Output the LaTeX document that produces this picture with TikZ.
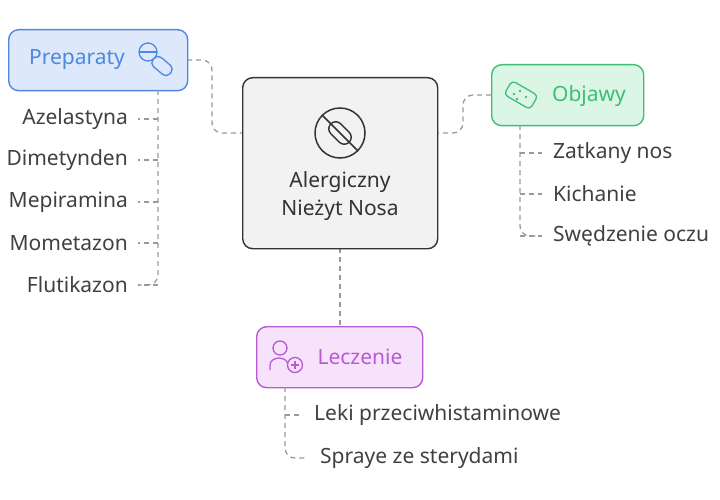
\documentclass[tikz,border=0pt]{standalone}
\usepackage{fontspec}
\setmainfont{Noto Sans}
\definecolor{ln}{HTML}{9A9A9A}
\definecolor{bl}{HTML}{4F86E0}\definecolor{blf}{HTML}{DDE9FB}
\definecolor{gr}{HTML}{3CBF75}\definecolor{grf}{HTML}{DCF6E6}
\definecolor{pu}{HTML}{B65AD6}\definecolor{puf}{HTML}{F6E3FB}
\begin{document}
\begin{tikzpicture}[x=1pt,y=-1pt,
 con/.style={draw=ln,dashed,dash pattern=on 5pt off 4pt,line width=1.3pt,rounded corners=10pt},
 item/.style={font=\fontsize{21}{24}\selectfont,text=black!75,inner sep=0pt},
 box/.style={rounded corners=10pt,line width=1.4pt}]
\useasboundingbox (0,0) rectangle (720,500);
% connectors
\coordinate (p1) at (187,60); \coordinate (c1) at (242,133);
\draw[con] (p1) -- (212,60) -- (212,133) -- (c1);
\coordinate (o1) at (491,95); \coordinate (c2) at (437,133);
\draw[con] (o1) -- (463,95) -- (463,133) -- (c2);
\coordinate (c3) at (340,248); \coordinate (l1) at (340,326);
\draw[con,rounded corners=0pt] (c3) -- (l1);
% central
\node[box,draw=black!80,fill=black!5,minimum width=195,minimum height=171,anchor=north west] (cen) at (242,77) {};
\node[font=\fontsize{21}{28}\selectfont,align=center,text=black!80] (ct) at (340,196) {Alergiczny\\Nieżyt Nosa};
\node[circle,draw=black!80,line width=1.5pt,minimum size=50pt] (ic) at (340,133) {};
\draw[black!80,line width=1.5pt] (ic.north west) -- (ic.south east);
\draw[black!80,line width=1.4pt,rounded corners=7pt,rotate around={-45:(340,133)}] (327,126) rectangle (353,140);
% Preparaty
\node[box,draw=bl,fill=blf,minimum width=179,minimum height=61,anchor=north west] (prep) at (8,29) {};
\node[text=bl,font=\fontsize{21}{24}\selectfont] (pt) at (77,60) {Preparaty};
\node[circle,draw=bl,line width=1.3pt,minimum size=18pt,inner sep=0] (pi1) at (148,52) {};
\draw[bl,line width=1.3pt] (139,52) -- (157,52);
\draw[bl,line width=1.3pt,rounded corners=5pt,rotate around={-40:(162,66)}] (151,60) rectangle (173,72);
% Objawy
\node[box,draw=gr,fill=grf,minimum width=152,minimum height=61,anchor=north west] (obj) at (491,64) {};
\node[text=gr,font=\fontsize{21}{24}\selectfont] (ot) at (589,96) {Objawy};
\draw[gr,line width=1.3pt,rounded corners=4pt,rotate around={-30:(521,95)}] (506,87) rectangle (536,103);
\foreach \p in {(514,94),(520,91),(526,97),(517,99)} \fill[gr] \p circle (1.4pt);
% Leczenie
\node[box,draw=pu,fill=puf,minimum width=166,minimum height=61,anchor=north west] (lec) at (256,326) {};
\node[text=pu,font=\fontsize{21}{24}\selectfont] (lt) at (360,357) {Leczenie};
\draw[pu,line width=1.3pt] (280,348) circle (7pt) (270,370) -- (270,365) arc (180:0:9pt and 7pt);
\node[circle,draw=pu,fill=puf,line width=1.3pt,minimum size=15pt,inner sep=0] (pl) at (295,365) {};
\draw[pu,line width=1.3pt] (291,365) -- (299,365) (295,361) -- (295,369);
% lists
\draw[con] (158,90) -- (158,285) -- (140,285);
\foreach \y/\t in {119/Azelastyna,160/Dimetynden,202/Mepiramina,243/Mometazon,285/Flutikazon}{
 \draw[con,rounded corners=0pt] (158,\y) -- (138,\y);
 \node[item,anchor=east] (a\y) at (128,\y) {\t};}
\draw[con] (520,125) -- (520,236) -- (542,236);
\foreach \y/\t in {153/Zatkany nos,194/Kichanie,236/Swędzenie oczu}{
 \draw[con,rounded corners=0pt] (520,\y) -- (542,\y);
 \node[item,anchor=west] (b\y) at (553,\y) {\t};}
\draw[con] (285,387) -- (285,458) -- (306,458);
\draw[con,rounded corners=0pt] (285,415) -- (303,415);
\node[item,anchor=west] (l415) at (314,415) {Leki przeciwhistaminowe};
\node[item,anchor=west] (l458) at (320,458) {Spraye ze sterydami};
\end{tikzpicture}
\end{document}
